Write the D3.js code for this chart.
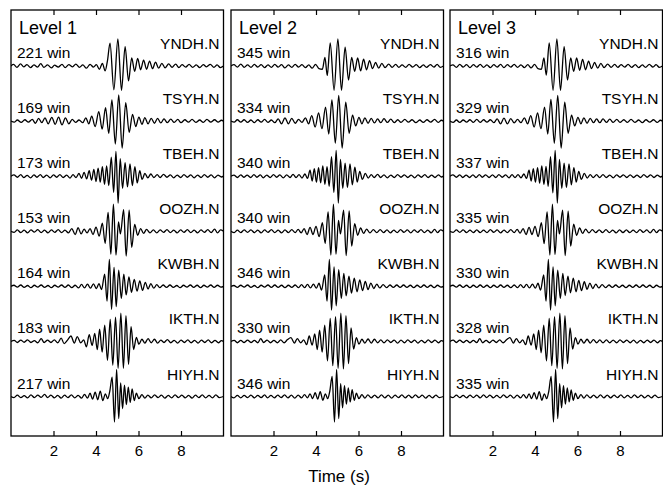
<!DOCTYPE html>
<html>
<head>
<meta charset="utf-8">
<script src="https://cdn.jsdelivr.net/npm/d3@7"></script>
<style>
  body { margin: 0; background: #fff; }
  text { font-family: "Liberation Sans", Arial, Helvetica, sans-serif; fill: #000; }
</style>
</head>
<body>
<div id="main"></div>
<script>
// station order, top to bottom
var stations = ["YNDH.N", "TSYH.N", "TBEH.N", "OOZH.N", "KWBH.N", "IKTH.N", "HIYH.N"];
var levels = ["Level 1", "Level 2", "Level 3"];
var winCounts1 = [221, 169, 173, 153, 164, 183, 217];
var winCounts2 = [345, 334, 340, 340, 346, 330, 346];
var winCounts3 = [316, 329, 337, 335, 330, 328, 335];
var timeTicks = [2, 4, 6, 8];

// waveform extrema: [time (s), normalised amplitude]
// ---- Level 1
var yndh1 = [[0,0],[0.12,.06],[0.28,-.05],[0.45,.08],[0.6,-.03],[0.75,.05],[0.92,-.06],[1.08,.04],[1.25,-.04],[1.4,.09],[1.55,-.05],[1.72,.04],[1.9,-.07],[2.05,.03],[2.22,-.04],[2.4,.06],[2.55,-.06],[2.72,.05],[2.9,-.03],[3.05,.07],[3.22,-.05],[3.38,.04],[3.55,-.08],[3.72,.06],[3.88,-.04],[4.02,.05],[4.16,-.12],[4.3,.1],[4.43,-.18],[4.54,.2],[4.66,.85],[4.84,-.88],[5.03,1.0],[5.2,-.9],[5.37,.72],[5.53,-.55],[5.68,.3],[5.82,-.2],[5.96,.28],[6.1,-.14],[6.24,.22],[6.38,-.12],[6.52,.18],[6.66,-.1],[6.8,.14],[6.95,-.08],[7.1,.1],[7.25,-.07],[7.42,.08],[7.58,-.05],[7.75,.07],[7.9,-.06],[8.05,.05],[8.22,-.04],[8.38,.06],[8.55,-.05],[8.72,.04],[8.88,-.06],[9.05,.05],[9.2,-.03],[9.38,.06],[9.55,-.05],[9.7,.04],[9.85,-.06],[10,0]];
var tsyh1 = [[0,0],[0.15,-.04],[0.3,.04],[0.48,-.05],[0.65,.05],[0.82,-.04],[1.0,.06],[1.15,-.08],[1.3,.1],[1.45,-.06],[1.6,.12],[1.75,-.1],[1.92,.14],[2.08,-.12],[2.24,.15],[2.4,-.14],[2.56,.12],[2.72,-.1],[2.88,.06],[3.04,-.05],[3.2,.04],[3.38,-.06],[3.52,.12],[3.66,-.1],[3.8,.18],[3.96,-.2],[4.13,.35],[4.29,-.3],[4.45,.5],[4.6,-.45],[4.75,.78],[4.91,-.85],[5.07,.97],[5.23,-1.0],[5.4,.68],[5.56,-.42],[5.72,.25],[5.87,-.2],[6.02,.15],[6.16,-.12],[6.3,.13],[6.45,-.1],[6.6,.1],[6.75,-.08],[6.9,.1],[7.05,-.07],[7.2,.08],[7.36,-.06],[7.52,.07],[7.68,-.05],[7.85,.06],[8.0,-.06],[8.18,.05],[8.35,-.04],[8.52,.06],[8.7,-.05],[8.88,.04],[9.05,-.05],[9.22,.06],[9.4,-.04],[9.58,.05],[9.75,-.04],[9.9,.03],[10,0]];
var tbeh1 = [[0,0],[0.14,.05],[0.3,-.04],[0.46,.06],[0.6,-.05],[0.76,.03],[0.92,-.06],[1.08,.05],[1.22,-.04],[1.38,.06],[1.52,-.05],[1.68,.04],[1.84,-.06],[2.0,.05],[2.15,-.04],[2.3,.06],[2.46,-.05],[2.62,.04],[2.78,-.07],[2.92,.06],[3.06,-.05],[3.2,.1],[3.32,-.08],[3.44,.14],[3.56,-.1],[3.68,.2],[3.79,-.15],[3.9,.25],[4.0,-.2],[4.1,.3],[4.2,-.22],[4.3,.35],[4.4,-.3],[4.5,.38],[4.6,-.35],[4.72,.7],[4.83,-.6],[4.94,.92],[5.04,-1.0],[5.14,.65],[5.25,-.45],[5.37,.5],[5.48,-.4],[5.6,.45],[5.71,-.35],[5.83,.35],[5.94,-.25],[6.06,.2],[6.17,-.12],[6.3,.1],[6.44,-.06],[6.58,.08],[6.72,-.05],[6.88,.06],[7.02,-.05],[7.18,.07],[7.34,-.04],[7.5,.05],[7.66,-.06],[7.82,.04],[7.98,-.05],[8.14,.06],[8.3,-.04],[8.46,.05],[8.62,-.06],[8.78,.04],[8.94,-.05],[9.1,.06],[9.26,-.04],[9.42,.05],[9.58,-.06],[9.74,.04],[9.9,-.03],[10,0]];
var oozh1 = [[0,0],[0.15,-.04],[0.3,.05],[0.46,-.05],[0.62,.04],[0.78,-.06],[0.94,.05],[1.1,-.03],[1.26,.06],[1.42,-.05],[1.58,.04],[1.74,-.06],[1.9,.05],[2.06,-.04],[2.22,.06],[2.38,-.05],[2.54,.04],[2.7,-.06],[2.86,.1],[3.02,-.12],[3.16,.13],[3.3,-.1],[3.44,.08],[3.58,-.06],[3.72,.1],[3.86,-.12],[4.0,.15],[4.15,-.18],[4.3,.3],[4.43,-.45],[4.57,.7],[4.7,-.85],[4.82,1.0],[4.94,-.88],[5.06,.35],[5.15,-.1],[5.3,.8],[5.42,-.92],[5.56,.78],[5.68,-.6],[5.82,.25],[5.96,-.15],[6.1,.1],[6.24,-.08],[6.38,.07],[6.54,-.06],[6.7,.05],[6.86,-.06],[7.02,.05],[7.18,-.04],[7.34,.06],[7.5,-.05],[7.66,.04],[7.82,-.06],[7.98,.05],[8.14,-.04],[8.3,.06],[8.46,-.05],[8.62,.04],[8.78,-.06],[8.94,.05],[9.1,-.04],[9.26,.06],[9.42,-.05],[9.58,.08],[9.72,-.06],[9.86,.05],[10,0]];
var kwbh1 = [[0,0],[0.14,.04],[0.3,-.03],[0.46,.05],[0.62,-.04],[0.78,.03],[0.94,-.05],[1.1,.04],[1.26,-.03],[1.42,.05],[1.58,-.04],[1.74,.03],[1.9,-.05],[2.06,.04],[2.22,-.03],[2.38,.05],[2.54,-.04],[2.7,.05],[2.86,-.05],[3.02,.04],[3.18,-.06],[3.32,.07],[3.46,-.06],[3.6,.08],[3.74,-.07],[3.88,.09],[4.02,-.08],[4.14,.1],[4.26,-.12],[4.41,.45],[4.52,-.55],[4.63,1.0],[4.73,-.85],[4.85,.7],[4.95,-.75],[5.07,.6],[5.19,-.45],[5.31,.45],[5.42,-.32],[5.55,.35],[5.67,-.22],[5.8,.26],[5.93,-.18],[6.06,.2],[6.19,-.15],[6.32,.15],[6.45,-.1],[6.58,.1],[6.72,-.07],[6.86,.06],[7.0,-.05],[7.16,.05],[7.32,-.04],[7.48,.05],[7.64,-.04],[7.8,.03],[7.96,-.05],[8.12,.04],[8.28,-.03],[8.44,.05],[8.6,-.04],[8.76,.04],[8.92,-.05],[9.08,.04],[9.24,-.03],[9.4,.05],[9.56,-.04],[9.72,.04],[9.88,-.03],[10,0]];
var ikth1 = [[0,0],[0.15,.04],[0.3,-.04],[0.46,.05],[0.62,-.03],[0.78,.06],[0.94,-.04],[1.1,.03],[1.26,-.05],[1.42,.1],[1.56,-.04],[1.72,.05],[1.88,-.04],[2.04,.06],[2.2,-.05],[2.36,.12],[2.5,-.08],[2.66,.05],[2.82,.2],[2.98,-.06],[3.12,.18],[3.28,-.05],[3.42,.06],[3.55,-.2],[3.68,.25],[3.82,-.15],[3.94,.3],[4.06,-.3],[4.17,.45],[4.29,-.4],[4.41,.6],[4.54,-.7],[4.67,.82],[4.79,-.88],[4.92,.9],[5.04,-1.0],[5.17,1.05],[5.29,-1.0],[5.41,.95],[5.53,-.85],[5.65,.55],[5.77,-.3],[5.9,.15],[6.02,-.1],[6.16,.08],[6.3,-.06],[6.45,.1],[6.6,-.05],[6.75,.08],[6.9,-.06],[7.05,.05],[7.2,-.04],[7.36,.07],[7.52,-.05],[7.68,.04],[7.84,-.06],[8.0,.05],[8.16,-.04],[8.32,.06],[8.48,-.05],[8.64,.04],[8.8,-.06],[8.96,.05],[9.12,-.04],[9.28,.06],[9.44,-.05],[9.6,.04],[9.76,-.05],[9.9,.03],[10,0]];
var hiyh1 = [[0,0],[0.14,-.04],[0.3,.05],[0.46,-.04],[0.62,.03],[0.78,-.05],[0.94,.06],[1.1,-.04],[1.26,.05],[1.42,-.03],[1.58,.08],[1.72,-.04],[1.88,.05],[2.04,-.05],[2.2,.04],[2.36,-.06],[2.52,.05],[2.68,-.04],[2.84,.06],[3.0,-.05],[3.16,.04],[3.32,-.06],[3.46,.08],[3.6,-.06],[3.72,.12],[3.84,-.1],[3.96,.16],[4.08,-.12],[4.2,.2],[4.32,-.15],[4.44,.1],[4.55,-.08],[4.65,.2],[4.76,.72],[4.87,-.95],[4.97,1.0],[5.07,-.82],[5.16,.5],[5.25,-.45],[5.34,.42],[5.43,-.3],[5.52,.35],[5.61,-.22],[5.7,.28],[5.8,-.15],[5.9,.12],[6.02,-.08],[6.16,.07],[6.3,-.06],[6.44,.05],[6.6,-.05],[6.76,.06],[6.92,-.04],[7.08,.05],[7.24,-.06],[7.4,.04],[7.56,-.05],[7.72,.06],[7.88,-.04],[8.04,.05],[8.2,-.05],[8.36,.04],[8.52,-.06],[8.68,.05],[8.84,-.04],[9.0,.06],[9.16,-.05],[9.32,.04],[9.48,-.05],[9.64,.06],[9.8,-.04],[10,0]];

// ---- Level 2
var yndh2 = [[0,0],[0.14,.05],[0.3,-.04],[0.46,.07],[0.62,-.05],[0.78,.04],[0.94,-.05],[1.1,.06],[1.26,-.04],[1.42,.05],[1.58,-.06],[1.74,.04],[1.9,-.05],[2.06,.06],[2.22,-.04],[2.38,.05],[2.54,-.07],[2.7,.04],[2.86,-.05],[3.02,.06],[3.18,-.04],[3.34,.05],[3.5,-.06],[3.66,.04],[3.82,-.08],[3.98,.06],[4.14,-.1],[4.3,-.12],[4.42,.32],[4.53,-.35],[4.67,.86],[4.85,-.9],[5.03,1.0],[5.2,-.9],[5.37,.7],[5.53,-.52],[5.68,.32],[5.82,-.2],[5.96,.3],[6.1,-.18],[6.24,.25],[6.38,-.14],[6.52,.2],[6.66,-.1],[6.8,.13],[6.95,-.08],[7.1,.1],[7.25,-.06],[7.42,.07],[7.58,-.05],[7.75,.06],[7.9,-.05],[8.05,.04],[8.22,-.05],[8.38,.06],[8.55,-.04],[8.72,.05],[8.88,-.06],[9.05,.04],[9.2,-.05],[9.38,.05],[9.55,-.04],[9.7,.06],[9.85,-.05],[10,0]];
var tsyh2 = [[0,0],[0.15,-.04],[0.3,.05],[0.46,-.04],[0.62,.05],[0.78,-.05],[0.94,.04],[1.1,-.06],[1.26,.05],[1.42,-.04],[1.58,.06],[1.74,-.05],[1.9,.04],[2.06,-.06],[2.22,.08],[2.38,-.1],[2.54,.12],[2.7,-.1],[2.86,.1],[3.02,-.08],[3.18,.06],[3.34,-.05],[3.5,.12],[3.65,-.1],[3.8,.2],[3.96,-.22],[4.12,.3],[4.28,-.28],[4.45,.52],[4.6,-.48],[4.75,.78],[4.91,-.82],[5.07,.95],[5.23,-1.0],[5.4,.7],[5.56,-.45],[5.72,.22],[5.87,-.18],[6.02,.14],[6.16,-.1],[6.3,.12],[6.45,-.08],[6.6,.1],[6.75,-.07],[6.9,.08],[7.05,-.06],[7.2,.09],[7.36,-.05],[7.52,.07],[7.68,-.06],[7.85,.05],[8.0,-.05],[8.18,.06],[8.35,-.04],[8.52,.05],[8.7,-.06],[8.88,.04],[9.05,-.05],[9.22,.05],[9.4,-.04],[9.58,.06],[9.75,-.05],[9.9,.03],[10,0]];
var tbeh2 = [[0,0],[0.14,.04],[0.3,-.05],[0.46,.05],[0.6,-.04],[0.76,.04],[0.92,-.05],[1.08,.06],[1.22,-.04],[1.38,.05],[1.52,-.06],[1.68,.04],[1.84,-.05],[2.0,.06],[2.15,-.04],[2.3,.05],[2.46,-.06],[2.62,.05],[2.78,-.05],[2.92,.07],[3.06,-.05],[3.2,.06],[3.34,-.07],[3.48,.08],[3.6,-.08],[3.72,.22],[3.82,-.18],[3.92,.28],[4.02,-.22],[4.12,.32],[4.22,-.25],[4.32,.38],[4.42,-.3],[4.52,.35],[4.62,-.38],[4.73,.72],[4.84,-.6],[4.95,.95],[5.05,-1.0],[5.15,.62],[5.26,-.45],[5.37,.48],[5.48,-.42],[5.6,.45],[5.71,-.32],[5.83,.33],[5.94,-.22],[6.06,.18],[6.18,-.12],[6.32,.1],[6.46,-.07],[6.6,.06],[6.74,-.05],[6.9,.07],[7.04,-.05],[7.2,.05],[7.36,-.06],[7.52,.04],[7.68,-.05],[7.84,.06],[8.0,-.04],[8.16,.05],[8.32,-.05],[8.48,.04],[8.64,-.06],[8.8,.05],[8.96,-.04],[9.12,.06],[9.28,-.05],[9.44,.04],[9.6,-.05],[9.76,.05],[9.9,-.03],[10,0]];
var oozh2 = [[0,0],[0.15,-.05],[0.3,.04],[0.46,-.05],[0.62,.05],[0.78,-.04],[0.94,.05],[1.1,-.05],[1.26,.04],[1.42,-.06],[1.58,.05],[1.74,-.04],[1.9,.06],[2.06,-.05],[2.22,.04],[2.38,-.06],[2.54,.05],[2.7,-.05],[2.86,.06],[3.02,-.05],[3.16,.07],[3.3,-.06],[3.44,.1],[3.58,-.12],[3.72,.14],[3.86,-.12],[4.0,.18],[4.15,-.2],[4.3,.32],[4.43,-.45],[4.57,.72],[4.7,-.88],[4.82,1.0],[4.94,-.85],[5.06,.4],[5.15,-.1],[5.3,.78],[5.42,-.9],[5.56,.75],[5.68,-.55],[5.82,.28],[5.96,-.15],[6.1,.12],[6.24,-.08],[6.38,.08],[6.54,-.06],[6.7,.06],[6.86,-.05],[7.02,.06],[7.18,-.05],[7.34,.05],[7.5,-.06],[7.66,.04],[7.82,-.05],[7.98,.06],[8.14,-.04],[8.3,.05],[8.46,-.06],[8.62,.05],[8.78,-.04],[8.94,.06],[9.1,-.05],[9.26,.04],[9.42,-.06],[9.58,.07],[9.72,-.05],[9.86,.05],[10,0]];
var kwbh2 = [[0,0],[0.14,.03],[0.3,-.04],[0.46,.04],[0.62,-.03],[0.78,.05],[0.94,-.04],[1.1,.03],[1.26,-.05],[1.42,.04],[1.58,-.03],[1.74,.05],[1.9,-.04],[2.06,.05],[2.22,-.04],[2.38,.04],[2.54,-.05],[2.7,.04],[2.86,-.04],[3.02,.05],[3.18,-.05],[3.32,.06],[3.46,-.05],[3.6,.07],[3.74,-.06],[3.88,.08],[4.02,-.07],[4.14,.12],[4.26,-.14],[4.41,.42],[4.52,-.55],[4.63,1.0],[4.73,-.88],[4.85,.72],[4.95,-.72],[5.07,.62],[5.19,-.45],[5.31,.48],[5.42,-.35],[5.55,.38],[5.67,-.25],[5.8,.3],[5.93,-.2],[6.06,.24],[6.19,-.16],[6.32,.18],[6.45,-.12],[6.58,.12],[6.72,-.08],[6.86,.08],[7.0,-.06],[7.16,.06],[7.32,-.05],[7.48,.05],[7.64,-.04],[7.8,.05],[7.96,-.04],[8.12,.05],[8.28,-.04],[8.44,.04],[8.6,-.05],[8.76,.04],[8.92,-.04],[9.08,.05],[9.24,-.04],[9.4,.04],[9.56,-.05],[9.72,.04],[9.88,-.03],[10,0]];
var ikth2 = [[0,0],[0.15,.04],[0.3,-.05],[0.46,.04],[0.62,-.04],[0.78,.05],[0.94,-.04],[1.1,.04],[1.26,-.05],[1.4,.1],[1.54,-.04],[1.7,.05],[1.86,-.05],[2.02,.04],[2.18,-.05],[2.34,.06],[2.5,-.05],[2.66,.07],[2.82,.14],[2.98,-.06],[3.12,.1],[3.28,-.05],[3.42,.06],[3.56,-.12],[3.68,.2],[3.82,-.14],[3.94,.28],[4.06,-.3],[4.17,.42],[4.29,-.4],[4.41,.6],[4.54,-.72],[4.67,.85],[4.79,-.9],[4.92,.92],[5.04,-1.0],[5.17,1.05],[5.29,-1.02],[5.41,.95],[5.53,-.82],[5.65,.5],[5.77,-.28],[5.9,.14],[6.02,-.1],[6.16,.08],[6.3,-.06],[6.45,.09],[6.6,-.06],[6.75,.08],[6.9,-.05],[7.05,.06],[7.2,-.05],[7.36,.06],[7.52,-.04],[7.68,.05],[7.84,-.06],[8.0,.05],[8.16,-.05],[8.32,.06],[8.48,-.04],[8.64,.05],[8.8,-.06],[8.96,.04],[9.12,-.05],[9.28,.06],[9.44,-.04],[9.6,.05],[9.76,-.05],[9.9,.03],[10,0]];
var hiyh2 = [[0,0],[0.14,-.05],[0.3,.04],[0.46,-.05],[0.62,.04],[0.78,-.04],[0.94,.05],[1.1,-.05],[1.26,.04],[1.42,-.04],[1.58,.06],[1.72,-.05],[1.88,.04],[2.04,-.05],[2.2,.05],[2.36,-.04],[2.52,.06],[2.68,-.05],[2.84,.05],[3.0,-.06],[3.16,.05],[3.32,-.05],[3.46,.07],[3.6,-.05],[3.72,.1],[3.84,-.08],[3.96,.14],[4.08,-.1],[4.2,.18],[4.32,-.14],[4.44,.1],[4.55,-.08],[4.65,.2],[4.76,.74],[4.87,-.95],[4.97,1.0],[5.07,-.82],[5.16,.48],[5.25,-.42],[5.34,.4],[5.43,-.28],[5.52,.32],[5.61,-.2],[5.7,.25],[5.8,-.14],[5.9,.12],[6.02,-.08],[6.16,.07],[6.3,-.06],[6.44,.06],[6.6,-.05],[6.76,.05],[6.92,-.05],[7.08,.06],[7.24,-.05],[7.4,.05],[7.56,-.06],[7.72,.05],[7.88,-.04],[8.04,.06],[8.2,-.05],[8.36,.05],[8.52,-.05],[8.68,.06],[8.84,-.04],[9.0,.05],[9.16,-.06],[9.32,.04],[9.48,-.05],[9.64,.05],[9.8,-.04],[10,0]];

// ---- Level 3
var yndh3 = [[0,0],[0.14,.04],[0.3,-.05],[0.46,.06],[0.62,-.04],[0.78,.05],[0.94,-.06],[1.1,.05],[1.26,-.04],[1.42,.06],[1.58,-.05],[1.74,.04],[1.9,-.06],[2.06,.05],[2.22,-.04],[2.38,.06],[2.54,-.06],[2.7,.05],[2.86,-.04],[3.02,.06],[3.18,-.05],[3.34,.04],[3.5,-.06],[3.66,.05],[3.82,-.07],[3.98,.06],[4.14,-.1],[4.3,-.12],[4.42,.3],[4.53,-.34],[4.67,.86],[4.85,-.9],[5.03,1.0],[5.2,-.9],[5.37,.72],[5.53,-.52],[5.68,.3],[5.82,-.2],[5.96,.3],[6.1,-.16],[6.24,.24],[6.38,-.14],[6.52,.18],[6.66,-.1],[6.8,.13],[6.95,-.08],[7.1,.1],[7.25,-.06],[7.42,.07],[7.58,-.05],[7.75,.06],[7.9,-.05],[8.05,.05],[8.22,-.04],[8.38,.06],[8.55,-.05],[8.72,.05],[8.88,-.06],[9.05,.04],[9.2,-.05],[9.38,.06],[9.55,-.04],[9.7,.05],[9.85,-.05],[10,0]];
var tsyh3 = [[0,0],[0.15,-.05],[0.3,.04],[0.46,-.05],[0.62,.04],[0.78,-.04],[0.94,.05],[1.1,-.05],[1.26,.06],[1.42,-.05],[1.58,.05],[1.74,-.04],[1.9,.05],[2.06,-.06],[2.22,.08],[2.38,-.1],[2.54,.11],[2.7,-.1],[2.86,.09],[3.02,-.07],[3.18,.06],[3.34,-.06],[3.5,.12],[3.65,-.1],[3.8,.2],[3.96,-.22],[4.12,.3],[4.28,-.28],[4.45,.52],[4.6,-.48],[4.75,.8],[4.91,-.82],[5.07,.95],[5.23,-1.0],[5.4,.7],[5.56,-.45],[5.72,.22],[5.87,-.18],[6.02,.14],[6.16,-.1],[6.3,.12],[6.45,-.08],[6.6,.1],[6.75,-.06],[6.9,.08],[7.05,-.06],[7.2,.08],[7.36,-.05],[7.52,.07],[7.68,-.05],[7.85,.06],[8.0,-.05],[8.18,.05],[8.35,-.05],[8.52,.06],[8.7,-.05],[8.88,.04],[9.05,-.06],[9.22,.05],[9.4,-.04],[9.58,.05],[9.75,-.05],[9.9,.03],[10,0]];
var tbeh3 = [[0,0],[0.14,.05],[0.3,-.04],[0.46,.05],[0.6,-.05],[0.76,.04],[0.92,-.05],[1.08,.05],[1.22,-.05],[1.38,.06],[1.52,-.04],[1.68,.05],[1.84,-.05],[2.0,.05],[2.15,-.05],[2.3,.06],[2.46,-.04],[2.62,.05],[2.78,-.06],[2.92,.06],[3.06,-.05],[3.2,.06],[3.34,-.06],[3.48,.08],[3.6,-.08],[3.72,.22],[3.82,-.18],[3.92,.28],[4.02,-.22],[4.12,.32],[4.22,-.26],[4.32,.38],[4.42,-.3],[4.52,.36],[4.62,-.38],[4.73,.72],[4.84,-.62],[4.95,.95],[5.05,-1.0],[5.15,.62],[5.26,-.45],[5.37,.48],[5.48,-.42],[5.6,.45],[5.71,-.32],[5.83,.32],[5.94,-.22],[6.06,.18],[6.18,-.12],[6.32,.1],[6.46,-.07],[6.6,.06],[6.74,-.05],[6.9,.06],[7.04,-.05],[7.2,.06],[7.36,-.05],[7.52,.04],[7.68,-.06],[7.84,.05],[8.0,-.04],[8.16,.05],[8.32,-.05],[8.48,.05],[8.64,-.05],[8.8,.04],[8.96,-.05],[9.12,.06],[9.28,-.04],[9.44,.05],[9.6,-.05],[9.76,.04],[9.9,-.03],[10,0]];
var oozh3 = [[0,0],[0.15,-.04],[0.3,.05],[0.46,-.04],[0.62,.05],[0.78,-.05],[0.94,.04],[1.1,-.05],[1.26,.05],[1.42,-.05],[1.58,.04],[1.74,-.05],[1.9,.06],[2.06,-.04],[2.22,.05],[2.38,-.06],[2.54,.04],[2.7,-.05],[2.86,.06],[3.02,-.05],[3.16,.07],[3.3,-.07],[3.44,.1],[3.58,-.12],[3.72,.14],[3.86,-.12],[4.0,.18],[4.15,-.2],[4.3,.32],[4.43,-.46],[4.57,.72],[4.7,-.88],[4.82,1.0],[4.94,-.86],[5.06,.4],[5.15,-.1],[5.3,.78],[5.42,-.9],[5.56,.74],[5.68,-.55],[5.82,.26],[5.96,-.15],[6.1,.12],[6.24,-.08],[6.38,.08],[6.54,-.06],[6.7,.06],[6.86,-.05],[7.02,.05],[7.18,-.05],[7.34,.06],[7.5,-.05],[7.66,.04],[7.82,-.06],[7.98,.05],[8.14,-.05],[8.3,.05],[8.46,-.05],[8.62,.04],[8.78,-.05],[8.94,.06],[9.1,-.04],[9.26,.05],[9.42,-.06],[9.58,.07],[9.72,-.05],[9.86,.05],[10,0]];
var kwbh3 = [[0,0],[0.14,.04],[0.3,-.03],[0.46,.05],[0.62,-.04],[0.78,.04],[0.94,-.05],[1.1,.04],[1.26,-.04],[1.42,.05],[1.58,-.04],[1.74,.04],[1.9,-.05],[2.06,.04],[2.22,-.04],[2.38,.05],[2.54,-.04],[2.7,.04],[2.86,-.05],[3.02,.05],[3.18,-.05],[3.32,.06],[3.46,-.05],[3.6,.07],[3.74,-.06],[3.88,.08],[4.02,-.07],[4.14,.12],[4.26,-.14],[4.41,.42],[4.52,-.55],[4.63,1.0],[4.73,-.88],[4.85,.72],[4.95,-.72],[5.07,.6],[5.19,-.45],[5.31,.48],[5.42,-.34],[5.55,.38],[5.67,-.24],[5.8,.3],[5.93,-.2],[6.06,.22],[6.19,-.16],[6.32,.17],[6.45,-.11],[6.58,.12],[6.72,-.08],[6.86,.08],[7.0,-.06],[7.16,.06],[7.32,-.05],[7.48,.05],[7.64,-.04],[7.8,.05],[7.96,-.04],[8.12,.04],[8.28,-.05],[8.44,.04],[8.6,-.04],[8.76,.05],[8.92,-.04],[9.08,.05],[9.24,-.04],[9.4,.04],[9.56,-.05],[9.72,.04],[9.88,-.03],[10,0]];
var ikth3 = [[0,0],[0.15,.05],[0.3,-.04],[0.46,.05],[0.62,-.04],[0.78,.04],[0.94,-.05],[1.1,.04],[1.26,-.04],[1.4,.1],[1.54,-.05],[1.7,.04],[1.86,-.05],[2.02,.05],[2.18,-.04],[2.34,.06],[2.5,-.05],[2.66,.06],[2.82,.14],[2.98,-.06],[3.12,.1],[3.28,-.05],[3.42,.06],[3.56,-.12],[3.68,.2],[3.82,-.14],[3.94,.28],[4.06,-.3],[4.17,.42],[4.29,-.42],[4.41,.6],[4.54,-.72],[4.67,.85],[4.79,-.9],[4.92,.92],[5.04,-1.0],[5.17,1.05],[5.29,-1.02],[5.41,.95],[5.53,-.82],[5.65,.5],[5.77,-.28],[5.9,.14],[6.02,-.1],[6.16,.08],[6.3,-.06],[6.45,.08],[6.6,-.06],[6.75,.07],[6.9,-.05],[7.05,.06],[7.2,-.05],[7.36,.06],[7.52,-.05],[7.68,.05],[7.84,-.05],[8.0,.06],[8.16,-.04],[8.32,.05],[8.48,-.05],[8.64,.05],[8.8,-.06],[8.96,.04],[9.12,-.05],[9.28,.05],[9.44,-.04],[9.6,.05],[9.76,-.05],[9.9,.03],[10,0]];
var hiyh3 = [[0,0],[0.14,-.04],[0.3,.05],[0.46,-.04],[0.62,.04],[0.78,-.05],[0.94,.05],[1.1,-.04],[1.26,.05],[1.42,-.05],[1.58,.06],[1.72,-.04],[1.88,.05],[2.04,-.05],[2.2,.04],[2.36,-.05],[2.52,.06],[2.68,-.04],[2.84,.05],[3.0,-.06],[3.16,.05],[3.32,-.05],[3.46,.07],[3.6,-.06],[3.72,.1],[3.84,-.08],[3.96,.14],[4.08,-.1],[4.2,.18],[4.32,-.14],[4.44,.1],[4.55,-.08],[4.65,.2],[4.76,.74],[4.87,-.95],[4.97,1.0],[5.07,-.82],[5.16,.48],[5.25,-.42],[5.34,.4],[5.43,-.28],[5.52,.32],[5.61,-.2],[5.7,.24],[5.8,-.14],[5.9,.12],[6.02,-.08],[6.16,.07],[6.3,-.06],[6.44,.06],[6.6,-.05],[6.76,.05],[6.92,-.05],[7.08,.06],[7.24,-.05],[7.4,.05],[7.56,-.05],[7.72,.05],[7.88,-.04],[8.04,.06],[8.2,-.05],[8.36,.04],[8.52,-.05],[8.68,.06],[8.84,-.04],[9.0,.05],[9.16,-.05],[9.32,.04],[9.48,-.05],[9.64,.05],[9.8,-.04],[10,0]];

var traces1 = [yndh1, tsyh1, tbeh1, oozh1, kwbh1, ikth1, hiyh1];
var traces2 = [yndh2, tsyh2, tbeh2, oozh2, kwbh2, ikth2, hiyh2];
var traces3 = [yndh3, tsyh3, tbeh3, oozh3, kwbh3, ikth3, hiyh3];

var width = 663,
    height = 487;

var panelLeft = [11, 231, 450],
    panelW = 212.5,
    panelTop = 10,
    panelBottom = 436;

var svg = d3.select('#main').append("svg")
  .attr("width", width)
  .attr("height", height);

var x = d3.scaleLinear().domain([0, 10]).range([0, panelW]);
var yBase = d3.scalePoint().domain(stations).range([66, 396.5]);
var amp = d3.scaleLinear().domain([-1, 1]).range([27, -27]);

var line = d3.line()
  .x(function (d) { return x(d[0]); })
  .y(function (d) { return amp(d[1]); })
  .curve(d3.curveMonotoneX);

var allTraces = [traces1, traces2, traces3];
var allWins = [winCounts1, winCounts2, winCounts3];

svg.append("defs").append("clipPath").attr("id", "panelClip")
  .append("rect")
  .attr("x", 0).attr("y", panelTop)
  .attr("width", panelW).attr("height", panelBottom - panelTop);

levels.forEach(function (name, i) {
  var g = svg.append("g").attr("transform", "translate(" + panelLeft[i] + ",0)");

  // traces
  var tr = g.append("g").attr("clip-path", "url(#panelClip)");
  tr.selectAll("path")
    .data(allTraces[i])
    .enter().append("path")
    .attr("transform", function (d, k) { return "translate(0," + yBase(stations[k]) + ")"; })
    .attr("d", line)
    .attr("fill", "none")
    .attr("stroke", "black")
    .attr("stroke-width", 1.3)
    .attr("stroke-linejoin", "round");

  // labels
  g.selectAll("text.win")
    .data(allWins[i])
    .enter().append("text")
    .attr("class", "win")
    .attr("x", 6)
    .attr("y", function (d, k) { return yBase(stations[k]) - 8; })
    .style("font-size", "15.5px")
    .text(function (d) { return d + " win"; });

  g.selectAll("text.sta")
    .data(stations)
    .enter().append("text")
    .attr("class", "sta")
    .attr("x", panelW - 4)
    .attr("y", function (d) { return yBase(d) - 17; })
    .attr("text-anchor", "end")
    .style("font-size", "15.5px")
    .text(function (d) { return d; });

  g.append("text")
    .attr("x", 8)
    .attr("y", 34)
    .style("font-size", "18px")
    .text(name);

  // axes
  var bottomAxis = g.append("g")
    .attr("transform", "translate(0," + panelBottom + ")")
    .call(d3.axisBottom(x).tickValues(timeTicks).tickSizeInner(-5).tickSizeOuter(0).tickPadding(9));
  bottomAxis.select(".domain").remove();
  bottomAxis.selectAll("text")
    .style("font-family", '"Liberation Sans", Arial, sans-serif')
    .style("font-size", "15px");
  bottomAxis.selectAll("line").attr("stroke-width", 1.2);

  var topAxis = g.append("g")
    .attr("transform", "translate(0," + panelTop + ")")
    .call(d3.axisTop(x).tickValues(timeTicks).tickSizeInner(-5).tickSizeOuter(0).tickFormat(""));
  topAxis.select(".domain").remove();
  topAxis.selectAll("line").attr("stroke-width", 1.2);

  g.append("rect")
    .attr("x", 0).attr("y", panelTop)
    .attr("width", panelW).attr("height", panelBottom - panelTop)
    .attr("fill", "none")
    .attr("stroke", "black")
    .attr("stroke-width", 1.3);
});

svg.append("text")
  .attr("x", 339)
  .attr("y", 482)
  .attr("text-anchor", "middle")
  .style("font-size", "17px")
  .text("Time (s)");
</script>
</body>
</html>
